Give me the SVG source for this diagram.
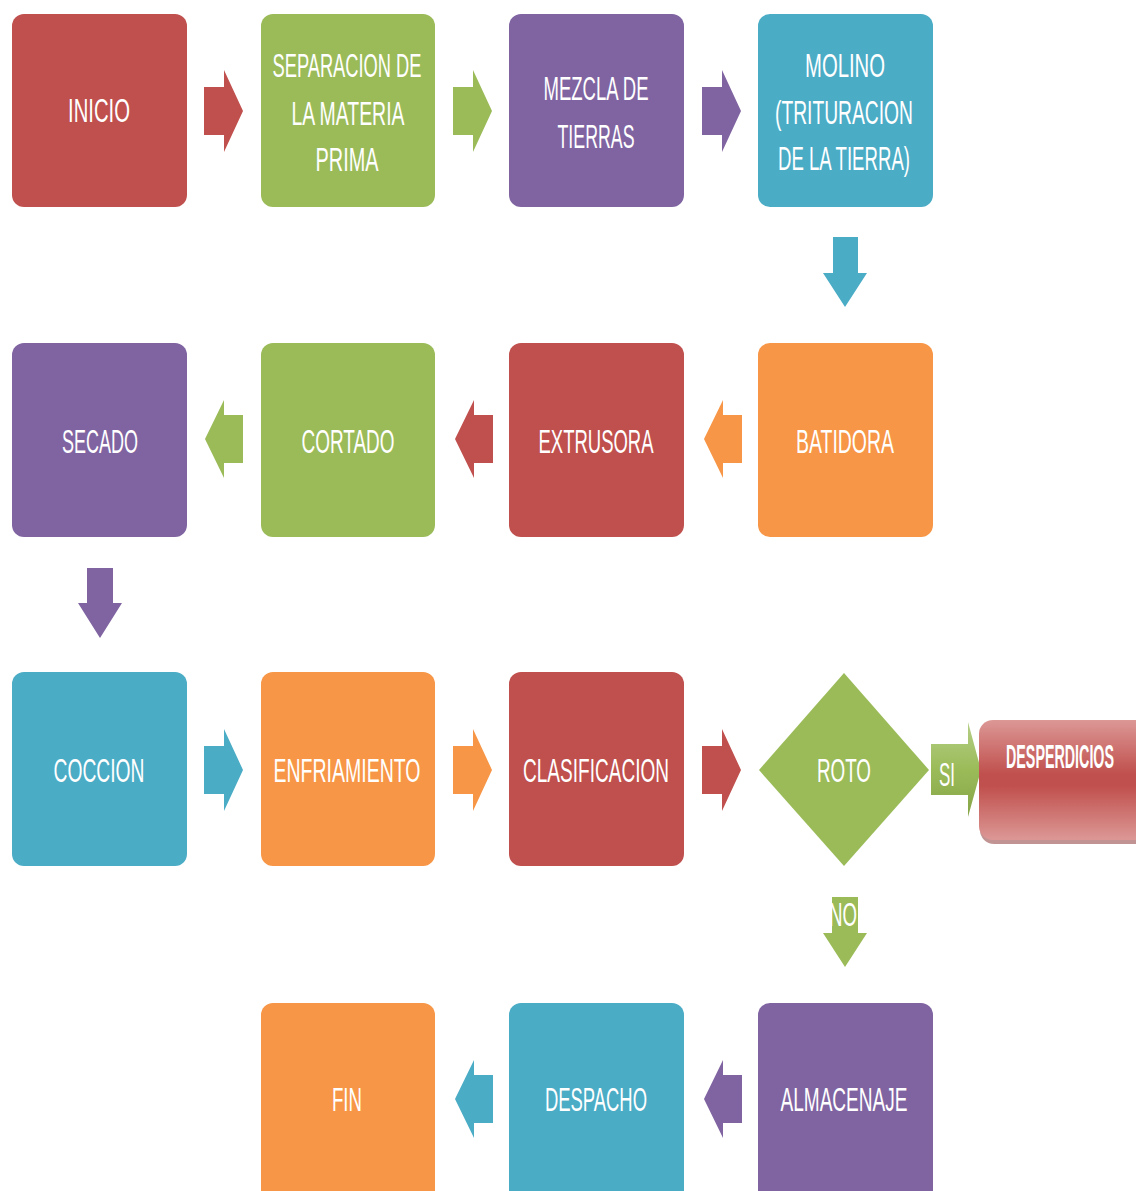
<svg xmlns="http://www.w3.org/2000/svg" width="1136" height="1191" viewBox="0 0 1136 1191">
<style>
.t{font-family:"Liberation Sans Narrow","Liberation Sans",Arial,sans-serif;font-size:34px;fill:#ffffff;text-anchor:middle}
.red{fill:#C0504D}.green{fill:#9BBB59}.purple{fill:#8064A2}.teal{fill:#4BACC6}.orange{fill:#F79646}
</style>
<defs>
<linearGradient id="gDes" x1="0" y1="0" x2="0" y2="1">
<stop offset="0" stop-color="#DC9896"/>
<stop offset="0.45" stop-color="#C0504D"/>
<stop offset="0.55" stop-color="#C0504D"/>
<stop offset="1" stop-color="#DC9896"/>
</linearGradient>
<linearGradient id="gSi" x1="0" y1="0" x2="0" y2="1">
<stop offset="0" stop-color="#B5CF86"/>
<stop offset="0.5" stop-color="#9BBB59"/>
<stop offset="1" stop-color="#86A547"/>
</linearGradient>
</defs>

<g id="connectors">
<polygon class="red" points="204,87 224,87 224,70 243,111 224,152 224,135 204,135"/>
<polygon class="green" points="453,87 473,87 473,70 492,111 473,152 473,135 453,135"/>
<polygon class="purple" points="702,87 722,87 722,70 741,111 722,152 722,135 702,135"/>
<polygon class="teal" points="833,237 858,237 858,273 867,273 845,307 823,273 833,273"/>
<polygon class="green" points="243,415 224,415 224,400 205,439 224,478 224,463 243,463"/>
<polygon class="red" points="493,415 474,415 474,400 455,439 474,478 474,463 493,463"/>
<polygon class="orange" points="742,415 723,415 723,400 704,439 723,478 723,463 742,463"/>
<polygon class="purple" points="87,568 113,568 113,603 122,603 100,638 78,603 87,603"/>
<polygon class="teal" points="204,746 224,746 224,729 243,770 224,811 224,794 204,794"/>
<polygon class="orange" points="453,746 473,746 473,729 492,770 473,811 473,794 453,794"/>
<polygon class="red" points="702,746 722,746 722,729 741,770 722,811 722,794 702,794"/>
<polygon fill="url(#gSi)" points="931,744 968,744 968,722 981,770 968,817 968,795 931,795"/>
<text class="t" x="947" y="786" font-size="26" textLength="16" lengthAdjust="spacingAndGlyphs">SI</text>
<polygon class="green" points="832,897 858,897 858,933 867,933 845,967 823,933 832,933"/>
<text class="t" x="843" y="926" font-size="24" textLength="28" lengthAdjust="spacingAndGlyphs">NO</text>
<polygon class="teal" points="493,1075 474,1075 474,1060 455,1099 474,1138 474,1123 493,1123"/>
<polygon class="purple" points="742,1075 723,1075 723,1060 704,1099 723,1138 723,1123 742,1123"/>
</g>

<g id="inicio"><rect class="red" x="12" y="14" width="175" height="193" rx="12"/>
<text class="t" x="99" y="122" textLength="62" lengthAdjust="spacingAndGlyphs">INICIO</text></g>

<g id="separacion"><rect class="green" x="261" y="14" width="174" height="193" rx="12"/>
<text class="t" x="347" y="77" textLength="149" lengthAdjust="spacingAndGlyphs">SEPARACION DE</text>
<text class="t" x="348" y="125" textLength="113" lengthAdjust="spacingAndGlyphs">LA MATERIA</text>
<text class="t" x="347" y="171" textLength="63" lengthAdjust="spacingAndGlyphs">PRIMA</text></g>

<g id="mezcla"><rect class="purple" x="509" y="14" width="175" height="193" rx="12"/>
<text class="t" x="596" y="100" textLength="105" lengthAdjust="spacingAndGlyphs">MEZCLA DE</text>
<text class="t" x="596" y="148" textLength="77" lengthAdjust="spacingAndGlyphs">TIERRAS</text></g>

<g id="molino"><rect class="teal" x="758" y="14" width="175" height="193" rx="12"/>
<text class="t" x="845" y="77" textLength="80" lengthAdjust="spacingAndGlyphs">MOLINO</text>
<text class="t" x="844" y="124" textLength="138" lengthAdjust="spacingAndGlyphs">(TRITURACION</text>
<text class="t" x="844" y="170" textLength="132" lengthAdjust="spacingAndGlyphs">DE LA TIERRA)</text></g>

<g id="secado"><rect class="purple" x="12" y="343" width="175" height="194" rx="12"/>
<text class="t" x="100" y="453" textLength="76" lengthAdjust="spacingAndGlyphs">SECADO</text></g>

<g id="cortado"><rect class="green" x="261" y="343" width="174" height="194" rx="12"/>
<text class="t" x="348" y="453" textLength="93" lengthAdjust="spacingAndGlyphs">CORTADO</text></g>

<g id="extrusora"><rect class="red" x="509" y="343" width="175" height="194" rx="12"/>
<text class="t" x="596" y="453" textLength="115" lengthAdjust="spacingAndGlyphs">EXTRUSORA</text></g>

<g id="batidora"><rect class="orange" x="758" y="343" width="175" height="194" rx="12"/>
<text class="t" x="845" y="453" textLength="98" lengthAdjust="spacingAndGlyphs">BATIDORA</text></g>

<g id="coccion"><rect class="teal" x="12" y="672" width="175" height="194" rx="12"/>
<text class="t" x="99" y="782" textLength="91" lengthAdjust="spacingAndGlyphs">COCCION</text></g>

<g id="enfriamiento"><rect class="orange" x="261" y="672" width="174" height="194" rx="12"/>
<text class="t" x="347" y="782" textLength="147" lengthAdjust="spacingAndGlyphs">ENFRIAMIENTO</text></g>

<g id="clasificacion"><rect class="red" x="509" y="672" width="175" height="194" rx="12"/>
<text class="t" x="596" y="782" textLength="146" lengthAdjust="spacingAndGlyphs">CLASIFICACION</text></g>

<g id="roto"><polygon class="green" points="759,770 844,673 929,770 844,866"/>
<text class="t" x="844" y="782" textLength="54" lengthAdjust="spacingAndGlyphs">ROTO</text></g>

<g id="desperdicios">
<rect x="980" y="724" width="180" height="120" rx="14" fill="#8E3A38" opacity="0.55"/>
<rect x="979" y="720" width="180" height="120" rx="14" fill="url(#gDes)"/>
<text class="t" x="1060" y="768" font-size="25" font-weight="bold" textLength="108" lengthAdjust="spacingAndGlyphs">DESPERDICIOS</text></g>

<g id="fin"><rect class="orange" x="261" y="1003" width="174" height="200" rx="12"/>
<text class="t" x="347" y="1111" textLength="30" lengthAdjust="spacingAndGlyphs">FIN</text></g>

<g id="despacho"><rect class="teal" x="509" y="1003" width="175" height="200" rx="12"/>
<text class="t" x="596" y="1111" textLength="102" lengthAdjust="spacingAndGlyphs">DESPACHO</text></g>

<g id="almacenaje"><rect class="purple" x="758" y="1003" width="175" height="200" rx="12"/>
<text class="t" x="844" y="1111" textLength="127" lengthAdjust="spacingAndGlyphs">ALMACENAJE</text></g>
</svg>
